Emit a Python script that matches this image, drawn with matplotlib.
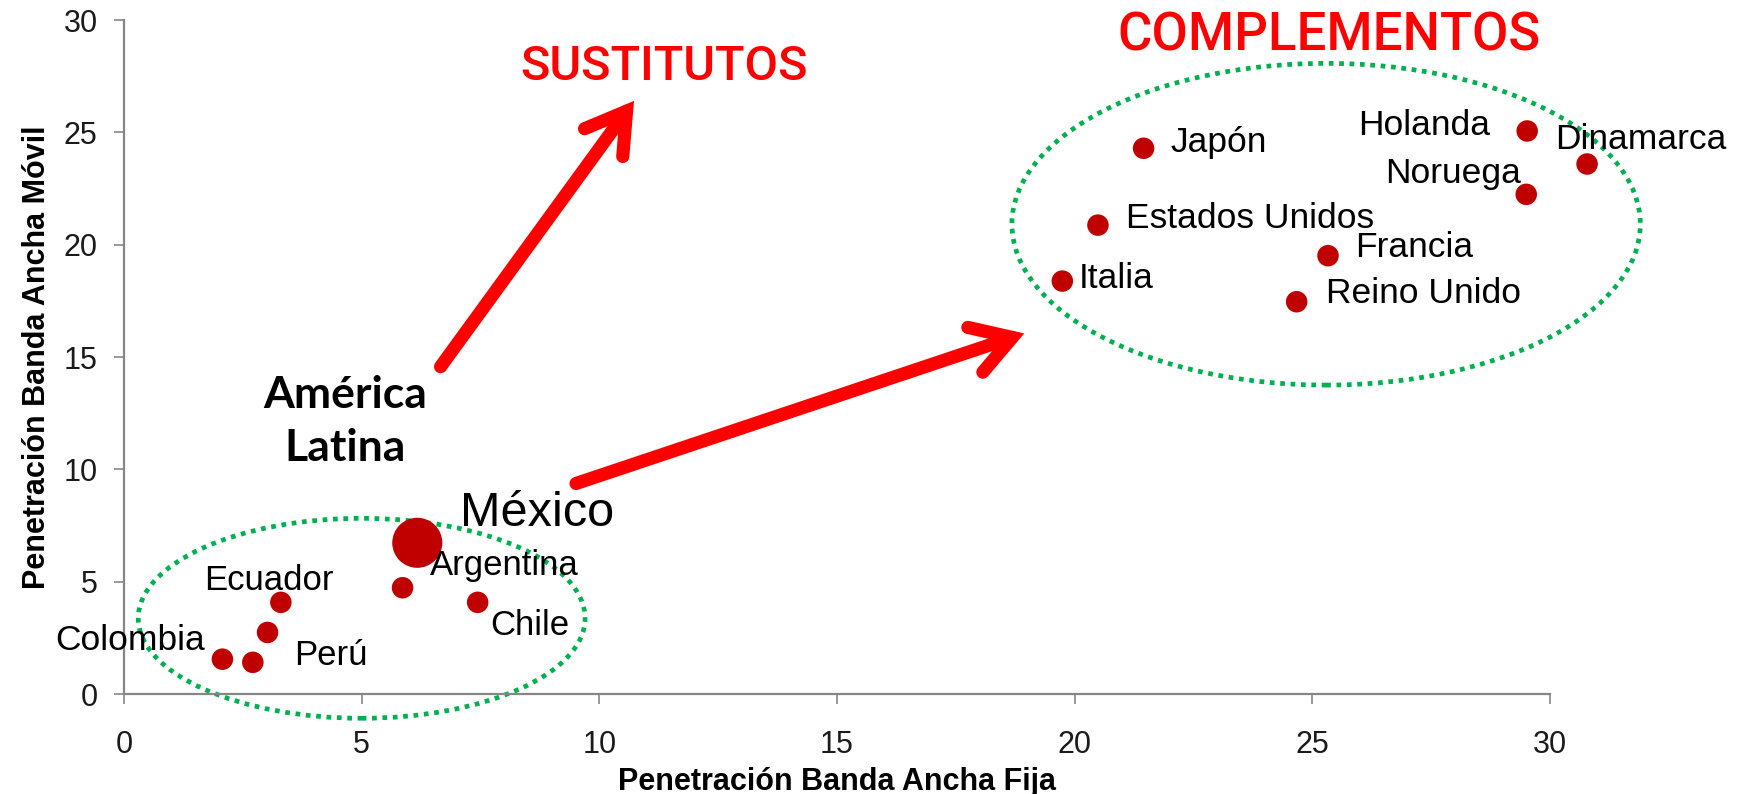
import matplotlib
matplotlib.use("Agg")
import matplotlib.pyplot as plt
from matplotlib.patches import Ellipse, FancyArrowPatch, ArrowStyle

# ---- data ----
latam_names = ["México", "Argentina", "Chile", "Ecuador", "", "Colombia", "Perú"]
latam_fixed = [6.17, 5.86, 7.44, 3.30, 3.02, 2.07, 2.71]
latam_mobile = [6.73, 4.73, 4.08, 4.08, 2.74, 1.55, 1.41]
latam_sizes = [1300, 240, 240, 240, 240, 240, 240]

dev_names = ["Japón", "Holanda", "Dinamarca", "Noruega", "Estados Unidos",
             "Francia", "Italia", "Reino Unido"]
dev_fixed = [21.45, 29.52, 30.78, 29.50, 20.49, 25.33, 19.74, 24.67]
dev_mobile = [24.29, 25.06, 23.59, 22.24, 20.87, 19.51, 18.38, 17.46]

ticks = [0, 5, 10, 15, 20, 25, 30]
xlabel = "Penetración Banda Ancha Fija"
ylabel = "Penetración Banda Ancha Móvil"

# label placements (data coords, baseline), alignment
latam_label_pos = {
    "México": (7.07, 7.48, "left", 35),
    "Argentina": (6.44, 5.30, "left", 25),
    "Chile": (7.70, 2.63, "left", 25),
    "Ecuador": (1.69, 4.63, "left", 25),
    "Colombia": (-1.45, 1.96, "left", 25.5),
    "Perú": (3.57, 1.29, "left", 25),
}
dev_label_pos = {
    "Japón": (22.02, 24.13, "left"),
    "Holanda": (28.75, 24.88, "right"),
    "Dinamarca": (30.10, 24.25, "left"),
    "Noruega": (29.38, 22.73, "right"),
    "Estados Unidos": (21.07, 20.75, "left"),
    "Francia": (25.90, 19.43, "left"),
    "Italia": (20.09, 18.05, "left"),
    "Reino Unido": (25.28, 17.39, "left"),
}

plt.rcParams['font.family'] = ['Liberation Sans', 'DejaVu Sans']

fig = plt.figure(figsize=(17.5, 7.94), dpi=100)
ax = fig.add_axes([124 / 1750, 1 - 694 / 794, (1550 - 124) / 1750, (694 - 20) / 794])
ax.set_xlim(0, 30)
ax.set_ylim(0, 30)

dot_color = "#C00000"
ax.scatter(latam_fixed, latam_mobile, s=latam_sizes, color=dot_color,
           edgecolors="none", zorder=3, clip_on=False)
ax.scatter(dev_fixed, dev_mobile, s=240, color=dot_color,
           edgecolors="none", zorder=3, clip_on=False)

for name in latam_names:
    if name in latam_label_pos:
        x, y, ha, fs = latam_label_pos[name]
        ax.text(x, y, name, ha=ha, va="baseline", fontsize=fs, color="black", zorder=4)
for name in dev_names:
    x, y, ha = dev_label_pos[name]
    ax.text(x, y, name, ha=ha, va="baseline", fontsize=25.5, color="black", zorder=4)

# ellipses
green = "#00B050"
for (cx, cy, w, h) in [(5.0, 3.37, 9.40, 8.90), (25.29, 20.91, 13.22, 14.32)]:
    e = Ellipse((cx, cy), w, h, fill=False, edgecolor=green, lw=3.4,
                linestyle=(0, (1, 1.2)), clip_on=False, zorder=2)
    ax.add_patch(e)

# arrows
red = "#FF0000"
for (p0, p1) in [((6.66, 14.57), (10.73, 26.40)), ((9.51, 9.37), (18.94, 16.05))]:
    arr = FancyArrowPatch(p0, p1,
                          arrowstyle=ArrowStyle("->", head_length=28, head_width=17),
                          mutation_scale=1, lw=9.5, color=red,
                          shrinkA=0, shrinkB=0, capstyle="round", joinstyle="miter",
                          clip_on=False, zorder=2)
    ax.add_patch(arr)

# big texts
ax.text(11.36, 27.33, "SUSTITUTOS", ha="center", va="baseline", fontsize=35,
        color=red, family=["Roboto", "DejaVu Sans"], fontweight="medium")
ax.text(25.35, 28.66, "COMPLEMENTOS", ha="center", va="baseline", fontsize=38,
        color=red, family=["Roboto", "DejaVu Sans"], fontweight="medium")
ax.text(4.65, 12.71, "América", ha="center", va="baseline", fontsize=32,
        fontweight="bold", family=["Lato", "DejaVu Sans"], color="black")
ax.text(4.65, 10.35, "Latina", ha="center", va="baseline", fontsize=32,
        fontweight="bold", family=["Lato", "DejaVu Sans"], color="black")

# axes styling
for side in ["top", "right"]:
    ax.spines[side].set_visible(False)
for side in ["left", "bottom"]:
    ax.spines[side].set_color("#868686")
    ax.spines[side].set_linewidth(1.6)
ax.set_xticks(ticks)
ax.set_yticks(ticks)
ax.tick_params(axis="both", direction="out", length=7, width=1.2, color="#868686",
               labelsize=22, labelcolor="#1a1a1a")
ax.tick_params(axis="x", pad=19)
ax.tick_params(axis="y", pad=12)

ax.set_xlabel(xlabel, fontsize=22, fontweight="bold", labelpad=5)
ax.set_ylabel(ylabel, fontsize=22, fontweight="bold", labelpad=8)

fig.savefig("out.png", dpi=100)
